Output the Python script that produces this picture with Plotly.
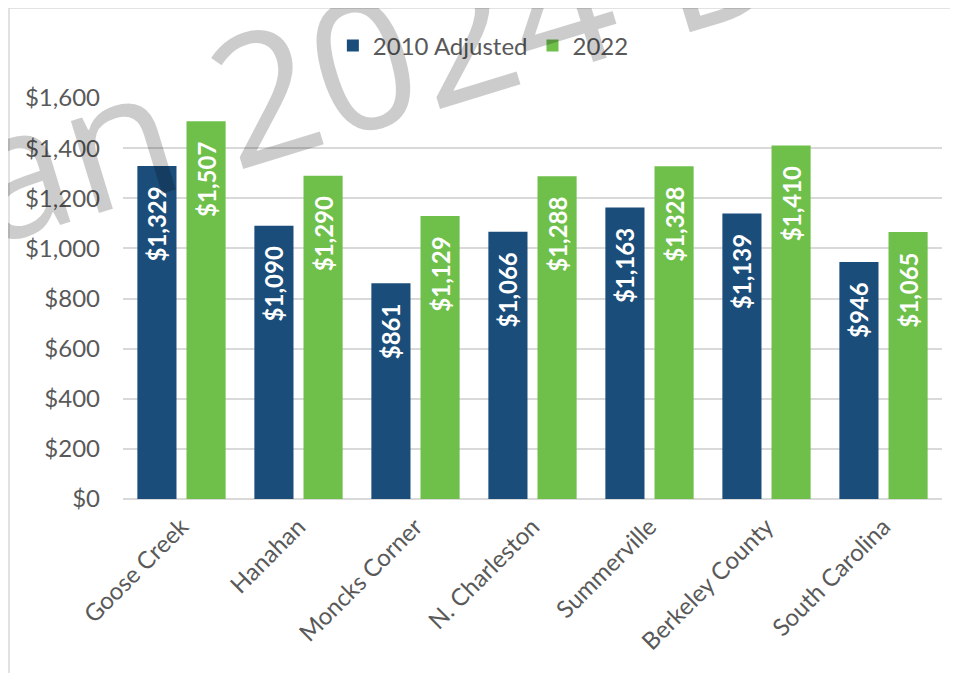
import plotly.graph_objects as go

categories = ["Goose Creek", "Hanahan", "Moncks Corner", "N. Charleston",
              "Summerville", "Berkeley County", "South Carolina"]
series_names = ["2010 Adjusted", "2022"]
values_2010 = [1329, 1090, 861, 1066, 1163, 1139, 946]
values_2022 = [1507, 1290, 1129, 1288, 1328, 1410, 1065]
tick_values = [0, 200, 400, 600, 800, 1000, 1200, 1400, 1600]
tick_labels = ["$0", "$200", "$400", "$600", "$800", "$1,000", "$1,200", "$1,400", "$1,600"]
watermark_text = "Plan 2024 Draft"

colors = ["#1b4d7a", "#6fbf4b"]
FONT = "Lato"
# invisible trailing characters keep the label away from the bar end
PAD = "<span style='color:rgba(0,0,0,0)'>\u00a0\u00a0.</span>"


def fmt(v):
    return "${:,}".format(v) + PAD


fig = go.Figure()
for name, vals, col in zip(series_names, [values_2010, values_2022], colors):
    fig.add_trace(go.Bar(
        name=name, x=categories, y=vals,
        marker=dict(color=col, line=dict(width=0)),
        text=[fmt(v) for v in vals],
        textposition="inside", insidetextanchor="end", textangle=-90,
        textfont=dict(family=FONT, size=24, color="white", weight="bold"),
        hoverinfo="skip",
    ))

# page has an 8px body margin, so the figure is 8px smaller and shifted
fig.update_layout(
    width=950, height=665,
    margin=dict(l=115, r=16, t=90, b=174),
    paper_bgcolor="white", plot_bgcolor="white",
    barmode="group", bargap=0.16, bargroupgap=0.204,
    font=dict(family=FONT, color="#595959", size=24),
    showlegend=True,
    legend=dict(orientation="h", x=0.44, xanchor="center", y=1.13, yanchor="middle",
                font=dict(size=24, color="#595959"), itemwidth=30,
                bgcolor="rgba(0,0,0,0)", traceorder="normal"),
    xaxis=dict(showgrid=False, showline=False, ticks="", tickangle=-45,
               ticklabelstandoff=8,
               tickfont=dict(size=24, color="#595959"), automargin=False),
    yaxis=dict(range=[0, 1600], tickvals=tick_values, ticktext=tick_labels,
               showgrid=True, gridcolor="#d9d9d9", gridwidth=1.5,
               zeroline=True, zerolinecolor="#d9d9d9", zerolinewidth=1.5,
               showline=False, ticks="", ticklabelstandoff=22,
               tickfont=dict(size=24, color="#595959"), automargin=False),
    shapes=[dict(type="rect", xref="paper", yref="paper",
                 x0=-0.1392, x1=1.2, y0=-0.6, y1=1.2244,
                 line=dict(color="#d9d9d9", width=1.5), fillcolor="rgba(0,0,0,0)",
                 layer="below")],
    annotations=[dict(text=watermark_text, xref="paper", yref="paper",
                      x=0.3895, y=1.156, xanchor="center", yanchor="middle",
                      showarrow=False, textangle=-17,
                      font=dict(family="Open Sans", size=180, color="rgba(0,0,0,0.2)",
                                weight=400))],
)

fig.write_html("out.html")
